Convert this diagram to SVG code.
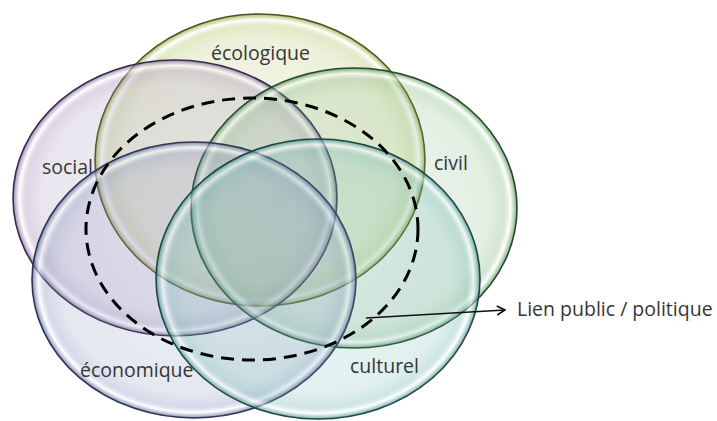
<svg xmlns="http://www.w3.org/2000/svg" width="717" height="421" viewBox="0 0 717 421">
<defs>
<radialGradient id="gEco">
<stop offset="0" stop-color="#a9ba50" stop-opacity="0.14"/>
<stop offset="0.82" stop-color="#a9ba50" stop-opacity="0.2"/>
<stop offset="0.92" stop-color="#a9ba50" stop-opacity="0.32"/>
<stop offset="0.96" stop-color="#ffffff" stop-opacity="0.55"/>
<stop offset="0.99" stop-color="#9aae40" stop-opacity="0.6"/>
<stop offset="1" stop-color="#7f9030" stop-opacity="0.75"/>
</radialGradient>
<radialGradient id="gSoc">
<stop offset="0" stop-color="#9580b0" stop-opacity="0.14"/>
<stop offset="0.82" stop-color="#9580b0" stop-opacity="0.2"/>
<stop offset="0.92" stop-color="#9580b0" stop-opacity="0.32"/>
<stop offset="0.96" stop-color="#ffffff" stop-opacity="0.55"/>
<stop offset="0.99" stop-color="#8a70a8" stop-opacity="0.6"/>
<stop offset="1" stop-color="#6a5088" stop-opacity="0.75"/>
</radialGradient>
<radialGradient id="gCiv">
<stop offset="0" stop-color="#78b278" stop-opacity="0.14"/>
<stop offset="0.82" stop-color="#78b278" stop-opacity="0.2"/>
<stop offset="0.92" stop-color="#78b278" stop-opacity="0.32"/>
<stop offset="0.96" stop-color="#ffffff" stop-opacity="0.55"/>
<stop offset="0.99" stop-color="#62a062" stop-opacity="0.6"/>
<stop offset="1" stop-color="#3f7a45" stop-opacity="0.75"/>
</radialGradient>
<radialGradient id="gEcn">
<stop offset="0" stop-color="#7f8ab8" stop-opacity="0.14"/>
<stop offset="0.82" stop-color="#7f8ab8" stop-opacity="0.2"/>
<stop offset="0.92" stop-color="#7f8ab8" stop-opacity="0.32"/>
<stop offset="0.96" stop-color="#ffffff" stop-opacity="0.55"/>
<stop offset="0.99" stop-color="#6a78a8" stop-opacity="0.6"/>
<stop offset="1" stop-color="#4a5580" stop-opacity="0.75"/>
</radialGradient>
<radialGradient id="gCul">
<stop offset="0" stop-color="#68b2ad" stop-opacity="0.14"/>
<stop offset="0.82" stop-color="#68b2ad" stop-opacity="0.2"/>
<stop offset="0.92" stop-color="#68b2ad" stop-opacity="0.32"/>
<stop offset="0.96" stop-color="#ffffff" stop-opacity="0.55"/>
<stop offset="0.99" stop-color="#55a09b" stop-opacity="0.6"/>
<stop offset="1" stop-color="#357470" stop-opacity="0.75"/>
</radialGradient>
<marker id="arr" viewBox="0 0 12 12" refX="11" refY="6" markerWidth="12" markerHeight="12" markerUnits="userSpaceOnUse" orient="auto">
<path d="M3,1.5 L11,6 L3,10.5" fill="none" stroke="#111" stroke-width="1.7"/>
</marker>
</defs>
<style>
.lbl{font-family:"Open Sans","Noto Sans",sans-serif;font-size:19.5px;fill:#363636}
.ring{stroke-width:1.6}
</style>
<rect width="717" height="421" fill="#ffffff"/>
<g id="ecologique">
<ellipse class="ring" cx="260" cy="160" rx="165" ry="146" fill="url(#gEco)" stroke="#4a5524"/>
</g>
<g id="social">
<ellipse class="ring" cx="175" cy="198" rx="162" ry="138" fill="url(#gSoc)" stroke="#3a2d4b"/>
</g>
<g id="civil">
<ellipse class="ring" cx="354" cy="208" rx="163" ry="140" fill="url(#gCiv)" stroke="#28482e"/>
</g>
<g id="economique">
<ellipse class="ring" cx="194" cy="280" rx="162" ry="138" fill="url(#gEcn)" stroke="#2f3654"/>
</g>
<g id="culturel">
<ellipse class="ring" cx="318" cy="279" rx="162" ry="140" fill="url(#gCul)" stroke="#224545"/>
</g>
<g id="lien-public">
<ellipse cx="252" cy="229" rx="166" ry="131" fill="none" stroke="#000" stroke-width="3" stroke-dasharray="13 8"/>
</g>
<g id="labels">
<text class="lbl" x="211" y="60">écologique</text>
<text class="lbl" x="42" y="174">social</text>
<text class="lbl" x="434" y="170">civil</text>
<text class="lbl" x="80" y="377">économique</text>
<text class="lbl" x="350" y="373">culturel</text>
<text class="lbl" x="517" y="316">Lien public / politique</text>
</g>
<g id="connectors">
<line x1="366" y1="318" x2="505" y2="310" stroke="#111" stroke-width="1.5" marker-end="url(#arr)"/>
</g>
</svg>
